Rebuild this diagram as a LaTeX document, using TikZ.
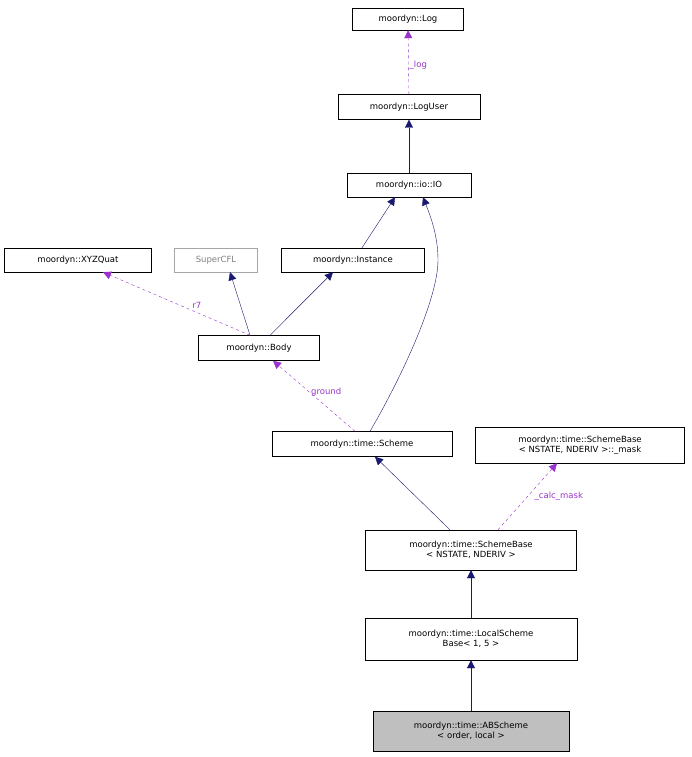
\documentclass[tikz,border=0pt]{standalone}
\usepackage{fontspec}
\setmainfont{DejaVu Sans}
\usetikzlibrary{arrows.meta}
\definecolor{navy}{HTML}{191970}
\definecolor{purp}{HTML}{9A32CD}
\begin{document}
\begin{tikzpicture}[x=1pt,y=-1pt,
  box/.style={draw=black,fill=white,font=\fontsize{8.5}{10}\selectfont,align=center,inner sep=2pt,minimum height=24pt},
  inh/.style={navy,-{Triangle[length=8pt,width=8pt]}},
  use/.style={purp,dashed,-{Triangle[length=8pt,width=8pt]}},
  lab/.style={font=\fontsize{8.5}{10}\selectfont,inner sep=1pt}]
\useasboundingbox (0,0) rectangle (691,757);
\node[box,minimum width=111pt,minimum height=22pt] (log) at (408,19) {moordyn::Log};
\node[box,minimum width=142pt,minimum height=25pt] (loguser) at (409,107) {moordyn::LogUser};
\node[box,minimum width=124pt] (io) at (409,185) {moordyn::io::IO};
\node[box,minimum width=147pt] (xyz) at (78,260) {moordyn::XYZQuat};
\node[box,minimum width=83pt,draw=gray!70,text=gray] (cfl) at (216,260) {SuperCFL};
\node[box,minimum width=143pt] (inst) at (353,260) {moordyn::Instance};
\node[box,minimum width=121pt,minimum height=25pt] (body) at (259,348) {moordyn::Body};
\node[box,minimum width=180pt,minimum height=25pt] (scheme) at (362,444) {moordyn::time::Scheme};
\node[box,minimum width=209pt,minimum height=36pt] (mask) at (580,445) {moordyn::time::SchemeBase\\< NSTATE, NDERIV >::\_mask};
\node[box,minimum width=211pt,minimum height=40pt] (sb) at (471,550) {moordyn::time::SchemeBase\\< NSTATE, NDERIV >};
\node[box,minimum width=212pt,minimum height=42pt] (ls) at (471,639) {moordyn::time::LocalScheme\\Base< 1, 5 >};
\node[box,minimum width=196pt,minimum height=40pt,fill=black!25] (ab) at (471,731) {moordyn::time::ABScheme\\< order, local >};
\draw[use] (loguser) -- node[lab,right,pos=0.45]{\_log} (log);
\draw[inh] (io) -- (loguser);
\draw[inh] (inst.north) ++(9,0) -- ([xshift=-14pt]io.south);
\draw[inh] ([xshift=8pt]scheme.north) .. controls (400,380) and (438,300) .. (438,260) .. controls (438,235) and (430,215) .. ([xshift=14pt]io.south);
\draw[inh] ([xshift=-9pt]body.north) -- ([xshift=14pt]cfl.south);
\draw[inh] ([xshift=11pt]body.north) -- ([xshift=-20pt]inst.south);
\draw[use] ([xshift=-9pt]body.north) -- node[lab,above right,pos=0.4]{r7} ([xshift=25pt]xyz.south);
\draw[use] ([xshift=-7pt]scheme.north) -- node[lab,right,pos=0.55]{ground} ([xshift=14pt]body.south);
\draw[inh] ([xshift=-21pt]sb.north) -- ([xshift=13pt]scheme.south);
\draw[use] ([xshift=27pt]sb.north) -- node[lab,right,pos=0.5,xshift=6pt]{\_calc\_mask} ([xshift=-23pt]mask.south);
\draw[inh] (ls) -- (sb);
\draw[inh] (ab) -- (ls);
\end{tikzpicture}
\end{document}
